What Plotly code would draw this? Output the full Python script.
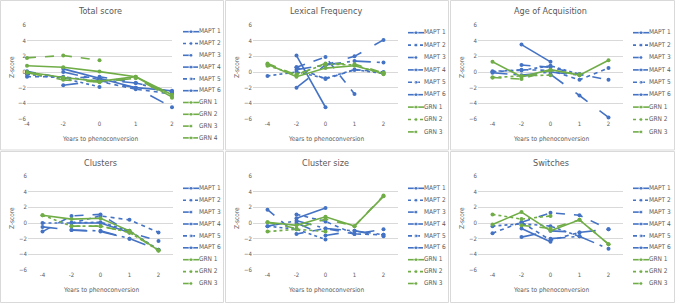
import plotly.graph_objects as go

W, H = 676, 303
FONT = "'Liberation Sans Narrow', 'DejaVu Sans Condensed', Lato, sans-serif"
BLUE = "#4472C4"
GREEN = "#70AD47"
GREY_TXT = "#595959"
GRID = "#D9D9D9"

years = ["-4", "-2", "0", "1", "2"]
y_ticks = [-6, -4, -2, 0, 2, 4, 6]

panel_titles = ["Total score", "Lexical Frequency", "Age of Acquisition",
                "Clusters", "Cluster size", "Switches"]

names_10 = ["MAPT 1", "MAPT 2", "MAPT 3", "MAPT 4", "MAPT 5", "MAPT 6",
            "GRN 1", "GRN 2", "GRN 3", "GRN 4"]
names_9 = names_10[:9]

N = None
total_score = [
    [N, 0.4, -0.8, -2.0, -2.4],
    [-0.3, -0.8, -1.9, N, N],
    [0.1, -0.8, -0.6, -1.4, -2.5],
    [N, -1.7, -1.1, -2.0, -4.5],
    [-0.6, -0.6, -1.2, -2.2, -2.8],
    [N, 0.0, -1.0, -1.4, -2.6],
    [0.8, 0.6, 0.05, -0.6, -2.9],
    [0.0, -0.7, -1.2, -0.6, -3.2],
    [1.8, 2.1, 1.5, N, N],
    [-0.1, -1.0, -1.3, -0.8, -3.3],
]
lexical_frequency = [
    [N, 2.1, -4.5, N, N],
    [-0.5, 0.0, -0.8, 0.3, -0.2],
    [N, 0.6, 1.9, -2.8, N],
    [N, -2.0, 0.9, 2.0, 4.1],
    [N, 0.6, -0.9, 0.3, 0.0],
    [N, 0.3, 0.9, 1.4, 1.2],
    [1.0, -0.6, 0.5, 0.8, -0.2],
    [0.8, -0.3, 1.0, 0.9, -0.3],
    [1.1, -0.4, 1.1, 1.0, -0.1],
]
age_of_acquisition = [
    [N, 3.5, 1.3, N, N],
    [0.1, 0.2, 0.8, -0.3, N],
    [N, 0.9, 0.6, -0.3, -1.0],
    [N, -0.5, -0.3, -3.0, -5.8],
    [0.0, 0.3, 0.2, -1.0, 0.5],
    [-0.1, -0.4, 0.0, -0.4, N],
    [1.3, -0.6, 0.3, -0.4, 1.5],
    [-0.7, -0.5, -0.4, N, N],
    [-0.7, -0.9, 0.2, -0.3, N],
]
clusters = [
    [N, 0.0, 0.0, -1.2, N],
    [0.0, 0.0, 0.1, -1.0, -3.4],
    [-1.1, 0.9, 1.1, -1.2, -2.3],
    [-0.5, -0.9, -1.1, -2.0, -3.4],
    [N, 0.0, 0.9, 0.4, -1.2],
    [N, -0.9, -1.0, -2.0, N],
    [1.0, 0.5, 0.6, -1.0, -3.5],
    [1.0, -0.4, -0.4, -1.2, -3.5],
    [N, -0.4, -0.4, -1.2, -3.5],
]
cluster_size = [
    [N, 0.6, 1.9, N, N],
    [-0.4, -0.8, -2.1, N, N],
    [1.7, -1.4, -0.7, -1.4, -0.8],
    [N, 0.0, -1.6, -1.0, -1.7],
    [N, 1.1, 0.2, -1.4, -1.5],
    [-0.4, 0.3, -0.7, -1.0, -1.5],
    [0.1, -0.3, 0.8, -0.4, 3.4],
    [-1.1, -0.8, -1.1, N, N],
    [0.1, -0.7, 0.5, -0.4, 3.5],
]
switches = [
    [N, -0.7, -2.4, N, N],
    [-0.4, -0.1, -0.4, -1.7, N],
    [N, 0.1, 1.3, 1.0, -0.8],
    [N, -1.8, -1.0, -1.2, -0.8],
    [-1.3, 0.1, -2.2, -1.2, N],
    [N, N, -2.0, -1.7, -3.3],
    [-0.2, 1.4, -1.0, 0.4, -2.7],
    [1.1, 0.5, 0.9, N, N],
    [N, -0.3, -0.7, 0.4, -2.7],
]

panel_data = [total_score, lexical_frequency, age_of_acquisition,
              clusters, cluster_size, switches]
panel_names = [names_10, names_9, names_9, names_9, names_9, names_9]

mapt_dash = ["solid", "dot", "dash", "longdash", "4px,4px", "longdashdot"]
grn_dash_p1 = ["solid", "solid", "dash", "longdash"]
grn_dash = ["solid", "dot", "dash"]

col_off = [0, 225, 450]
row_off = [0, 151]


def px_x(p):
    return p / W


def px_y(p):
    return 1 - p / H


fig = go.Figure()
layout = dict(
    width=W, height=H, margin=dict(l=0, r=0, t=0, b=0, autoexpand=False),
    paper_bgcolor="white", plot_bgcolor="white", showlegend=False,
    font=dict(family=FONT, color=GREY_TXT, size=6),
)
annotations = []
shapes = []

for k in range(6):
    r, c = divmod(k, 3)
    xo, yo = col_off[c], row_off[r]
    if k == 0:
        x0, x1 = xo + 27, xo + 172
        xr = [0, 4]
    else:
        x0, x1 = xo + 28, xo + 173
        xr = [-0.5, 4.5]
    yt, yb = yo + 25, yo + 119
    ax = k + 1
    sfx = "" if ax == 1 else str(ax)
    layout[f"xaxis{sfx}"] = dict(
        domain=[px_x(x0), px_x(x1)], anchor=f"y{sfx}",
        type="category", categoryorder="array", categoryarray=years,
        range=xr, showgrid=False, zeroline=False, showline=False,
        ticks="", tickfont=dict(size=6, color=GREY_TXT, family=FONT),
        fixedrange=True, automargin=False,
    )
    layout[f"yaxis{sfx}"] = dict(
        domain=[px_y(yb), px_y(yt)], anchor=f"x{sfx}",
        range=[-6, 6], tickvals=y_ticks, showgrid=True, gridcolor=GRID,
        gridwidth=1, zeroline=False, showline=False, ticks="",
        tickfont=dict(size=6, color=GREY_TXT, family=FONT), fixedrange=True,
        automargin=False,
    )
    names = panel_names[k]
    gd = grn_dash_p1 if k == 0 else grn_dash
    for i, (nm, vals) in enumerate(zip(names, panel_data[k])):
        is_m = nm.startswith("MAPT")
        color = BLUE if is_m else GREEN
        dash = mapt_dash[i] if is_m else gd[i - 6]
        fig.add_trace(go.Scatter(
            x=years, y=vals, mode="lines+markers", name=nm,
            line=dict(color=color, width=1.6, dash=dash),
            marker=dict(color=color, size=4),
            connectgaps=False, xaxis=f"x{sfx}", yaxis=f"y{sfx}",
            cliponaxis=False,
        ))

    # legend drawn on its own pixel-scaled axis
    lax = k + 7
    layout[f"xaxis{lax}"] = dict(
        domain=[px_x(xo + 178), px_x(xo + 225)], range=[178, 225],
        visible=False, fixedrange=True, anchor=f"y{lax}", automargin=False)
    layout[f"yaxis{lax}"] = dict(
        domain=[px_y(yo + 150), px_y(yo)], range=[150, 0],
        visible=False, fixedrange=True, anchor=f"x{lax}", automargin=False)
    if k == 0:
        first, step = 31.7, 11.8
    elif r == 0:
        first, step = 32.7, 12.4
    else:
        first, step = 37.3, 11.9
    ly = [first + i * step for i in range(len(names))]
    for i, nm in enumerate(names):
        is_m = nm.startswith("MAPT")
        color = BLUE if is_m else GREEN
        dash = mapt_dash[i] if is_m else gd[i - 6]
        fig.add_trace(go.Scatter(
            x=[183, 191, 199], y=[ly[i]] * 3, mode="lines+markers",
            line=dict(color=color, width=1.6, dash=dash),
            marker=dict(color=color, size=[0, 4, 0]),
            xaxis=f"x{lax}", yaxis=f"y{lax}", cliponaxis=False,
            hoverinfo="skip",
        ))
    fig.add_trace(go.Scatter(
        x=[199] * len(names), y=ly, mode="text", text=names,
        textposition="middle right", marker=dict(size=1),
        textfont=dict(size=6.5, color=GREY_TXT, family=FONT),
        xaxis=f"x{lax}", yaxis=f"y{lax}", cliponaxis=False, hoverinfo="skip",
    ))

    cx = (x0 + x1) / 2
    annotations.append(dict(
        text=panel_titles[k], x=px_x(cx), y=px_y(yo + 11.5), xref="paper",
        yref="paper", showarrow=False, xanchor="center", yanchor="middle",
        font=dict(size=9, color=GREY_TXT, family=FONT)))
    annotations.append(dict(
        text="Years to phenoconversion", x=px_x(cx), y=px_y(yo + 138.5),
        xref="paper", yref="paper", showarrow=False, xanchor="center",
        yanchor="middle", font=dict(size=6.5, color=GREY_TXT, family=FONT)))
    annotations.append(dict(
        text="Z-score", x=px_x(xo + 12), y=px_y(yo + 67), xref="paper",
        yref="paper", showarrow=False, textangle=-90, xanchor="center",
        yanchor="middle", font=dict(size=6.5, color=GREY_TXT, family=FONT)))

    pw = 224 if c < 2 else 225
    shapes.append(dict(
        type="rect", xref="paper", yref="paper",
        x0=px_x(xo + 0.5), x1=px_x(xo + pw - 0.5),
        y0=px_y(yo + (150 if r == 0 else 151.5)), y1=px_y(yo + 0.5),
        line=dict(color=GRID, width=1), layer="below"))

layout["annotations"] = annotations
layout["shapes"] = shapes
fig.update_layout(**layout)
fig.write_html(
    "out.html",
    config={"displayModeBar": False, "staticPlot": True},
    post_script="document.body.style.margin='0';"
                "document.body.style.overflow='hidden';",
)
